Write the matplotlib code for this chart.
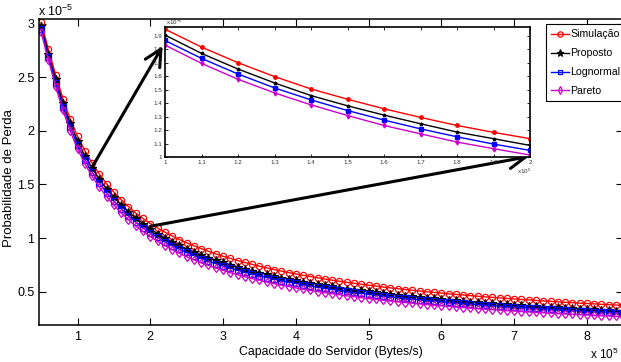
import numpy as np
import matplotlib
matplotlib.use("Agg")
import matplotlib.pyplot as plt

plt.rcParams['font.family'] = ['Liberation Sans', 'DejaVu Sans']
plt.rcParams['mathtext.default'] = 'regular'

# capacidade do servidor (x 10^5 Bytes/s)
capacidade = np.round(np.arange(5, 88) / 10, 1)

# probabilidade de perda (x 10^-5)
simulacao = [3.01, 2.76, 2.52, 2.30, 2.11,
             1.949, 1.816, 1.700, 1.597, 1.505, 1.429, 1.358, 1.294, 1.234, 1.183, 1.136,
             1.094, 1.056, 1.020, 0.987, 0.957, 0.928, 0.902, 0.877, 0.853, 0.831,
             0.811, 0.791, 0.773, 0.755, 0.738, 0.722, 0.707, 0.693, 0.679, 0.666,
             0.654, 0.642, 0.630, 0.619, 0.608, 0.598, 0.588, 0.579, 0.570, 0.561,
             0.553, 0.544, 0.536, 0.529, 0.521, 0.514, 0.507, 0.500, 0.494, 0.488,
             0.481, 0.475, 0.470, 0.464, 0.458, 0.453, 0.448, 0.443, 0.438, 0.433,
             0.428, 0.424, 0.419, 0.415, 0.411, 0.406, 0.402, 0.398, 0.394, 0.391,
             0.387, 0.383, 0.380, 0.376, 0.373, 0.369, 0.366]
proposto = [2.98, 2.72, 2.48, 2.26, 2.07,
            1.905, 1.769, 1.653, 1.550, 1.456, 1.380, 1.311, 1.247, 1.185, 1.136, 1.086,
            1.042, 1.002, 0.966, 0.932, 0.900, 0.871, 0.844, 0.819, 0.795, 0.773,
            0.752, 0.732, 0.713, 0.695, 0.679, 0.663, 0.648, 0.633, 0.620, 0.607,
            0.594, 0.582, 0.571, 0.560, 0.550, 0.539, 0.530, 0.521, 0.512, 0.503,
            0.495, 0.487, 0.479, 0.472, 0.464, 0.457, 0.451, 0.444, 0.438, 0.432,
            0.426, 0.420, 0.414, 0.409, 0.403, 0.398, 0.393, 0.388, 0.384, 0.379,
            0.375, 0.370, 0.366, 0.362, 0.358, 0.354, 0.350, 0.346, 0.343, 0.339,
            0.335, 0.332, 0.329, 0.325, 0.322, 0.319, 0.316]
lognormal = [2.95, 2.69, 2.445, 2.225, 2.035,
             1.865, 1.732, 1.616, 1.513, 1.424, 1.345, 1.274, 1.209, 1.150, 1.096, 1.049,
             1.006, 0.966, 0.930, 0.897, 0.866, 0.837, 0.810, 0.785, 0.762, 0.740,
             0.720, 0.700, 0.682, 0.665, 0.648, 0.633, 0.618, 0.604, 0.591, 0.578,
             0.566, 0.554, 0.543, 0.532, 0.522, 0.513, 0.503, 0.494, 0.485, 0.477,
             0.469, 0.461, 0.454, 0.446, 0.439, 0.433, 0.426, 0.420, 0.414, 0.408,
             0.402, 0.396, 0.391, 0.386, 0.381, 0.376, 0.371, 0.366, 0.362, 0.357,
             0.353, 0.349, 0.345, 0.341, 0.337, 0.333, 0.329, 0.325, 0.322, 0.318,
             0.315, 0.312, 0.309, 0.305, 0.302, 0.299, 0.296]
pareto = [2.92, 2.66, 2.41, 2.19, 1.998,
          1.831, 1.695, 1.577, 1.476, 1.387, 1.308, 1.234, 1.172, 1.111, 1.062, 1.015,
          0.970, 0.930, 0.893, 0.858, 0.827, 0.797, 0.770, 0.745, 0.721, 0.699,
          0.678, 0.659, 0.640, 0.623, 0.607, 0.591, 0.576, 0.562, 0.549, 0.536,
          0.524, 0.513, 0.502, 0.491, 0.481, 0.472, 0.462, 0.454, 0.445, 0.437,
          0.429, 0.421, 0.414, 0.407, 0.400, 0.394, 0.387, 0.381, 0.375, 0.369,
          0.364, 0.358, 0.353, 0.348, 0.343, 0.338, 0.334, 0.329, 0.325, 0.321,
          0.316, 0.312, 0.308, 0.305, 0.301, 0.297, 0.294, 0.290, 0.287, 0.284,
          0.280, 0.277, 0.274, 0.271, 0.268, 0.265, 0.262]

nomes = ['Simulação', 'Proposto', 'Lognormal', 'Pareto']
cores = ['#ff0000', '#000000', '#0000ff', '#cc00cc']
marcadores = ['o', '*', 's', 'd']
tam_marc = [4.5, 6, 4, 4.5]
series = [simulacao, proposto, lognormal, pareto]

W, H = 621, 362
fig = plt.figure(figsize=(W / 100, H / 100), dpi=100)

# eixo principal
ax = fig.add_axes([38.5 / W, 1 - 324.5 / H, 584.8 / W, 305.5 / H])
for s, nome, c, m, ms in zip(series, nomes, cores, marcadores, tam_marc):
    fill = c if m == '*' else 'none'
    ax.plot(capacidade, s, color=c, lw=1.0, marker=m, ms=ms, mfc=fill,
            mec=c, mew=0.9, label=nome)
ax.set_xlim(0.464, 8.5)
ax.set_ylim(0.195, 3.042)
ax.set_xticks(range(1, 9))
ax.set_xticklabels([str(i) for i in range(1, 9)])
ax.set_yticks([0.5, 1, 1.5, 2, 2.5, 3])
ax.set_yticklabels(['0.5', '1', '1.5', '2', '2.5', '3'])
ax.tick_params(direction='in', top=True, right=True, length=5, width=0.8,
               labelsize=9, pad=3)
ax.tick_params(axis='x', pad=5)
for sp in ax.spines.values():
    sp.set_linewidth(1.1)

fig.text(38 / W, 1 - 11 / H, 'x 10$^{-5}$', fontsize=9, va='center', ha='left')
fig.text(619 / W, 1 - 354 / H, 'x 10$^{5}$', fontsize=8.5, va='center', ha='right')
fig.text(331 / W, 1 - 352 / H, 'Capacidade do Servidor (Bytes/s)', fontsize=8.8,
         ha='center', va='center')
fig.text(9 / W, 1 - 178 / H, 'Probabilidade de Perda', fontsize=9.5,
         rotation=90, ha='center', va='center')

# setas apontando para a ampliação
seta = dict(arrowstyle='->, head_length=0.6, head_width=0.3', lw=2.2,
            color='black', shrinkA=0, shrinkB=0, mutation_scale=20)
ax.annotate('', xy=(2.17, 2.79), xytext=(1.2, 1.66), arrowprops=seta)
ax.annotate('', xy=(7.2, 1.76), xytext=(2.0, 1.11), arrowprops=seta)

# legenda
leg = fig.legend(loc='upper left', bbox_to_anchor=(546 / W, 1 - 24 / H),
                 bbox_transform=fig.transFigure, borderaxespad=0, fontsize=7.6,
                 handlelength=1.65, handletextpad=0.15, labelspacing=0.85,
                 borderpad=0.5, fancybox=False, framealpha=1, edgecolor='black',
                 markerscale=0.85)
leg.get_frame().set_linewidth(0.8)

# ampliação entre 1 e 2 x 10^5
ins = fig.add_axes([165 / W, 1 - 157 / H, 365 / W, 130 / H])
sel = (capacidade >= 1) & (capacidade <= 2)
for s, c, m in zip(series, cores, marcadores):
    ins.plot(capacidade[sel], np.array(s)[sel], color=c, lw=1.0, marker=m,
             ms=2.5, mfc=c, mec=c)
ins.set_xlim(1, 2)
ins.set_ylim(1, 1.965)
xt = [1, 1.1, 1.2, 1.3, 1.4, 1.5, 1.6, 1.7, 1.8, 1.9, 2]
yt = [1, 1.1, 1.2, 1.3, 1.4, 1.5, 1.6, 1.7, 1.8, 1.9]
ins.set_xticks(xt)
ins.set_xticklabels(['1', '1.1', '1.2', '1.3', '1.4', '1.5', '1.6', '1.7', '1.8', '1.9', '2'])
ins.set_yticks(yt)
ins.set_yticklabels(['1', '1.1', '1.2', '1.3', '1.4', '1.5', '1.6', '1.7', '1.8', '1.9'])
ins.tick_params(direction='in', top=True, right=True, length=2.5, width=0.6,
                labelsize=4.5, pad=2, labelcolor='#333333')
for sp in ins.spines.values():
    sp.set_linewidth(1.2)
fig.text(166 / W, 1 - 22 / H, 'x10$^{-5}$', fontsize=4.5, color='#333333',
         va='center', ha='left')
fig.text(517 / W, 1 - 171 / H, 'x10$^{5}$', fontsize=4.5, color='#333333',
         va='center', ha='left')

fig.savefig('out.png', dpi=100)
